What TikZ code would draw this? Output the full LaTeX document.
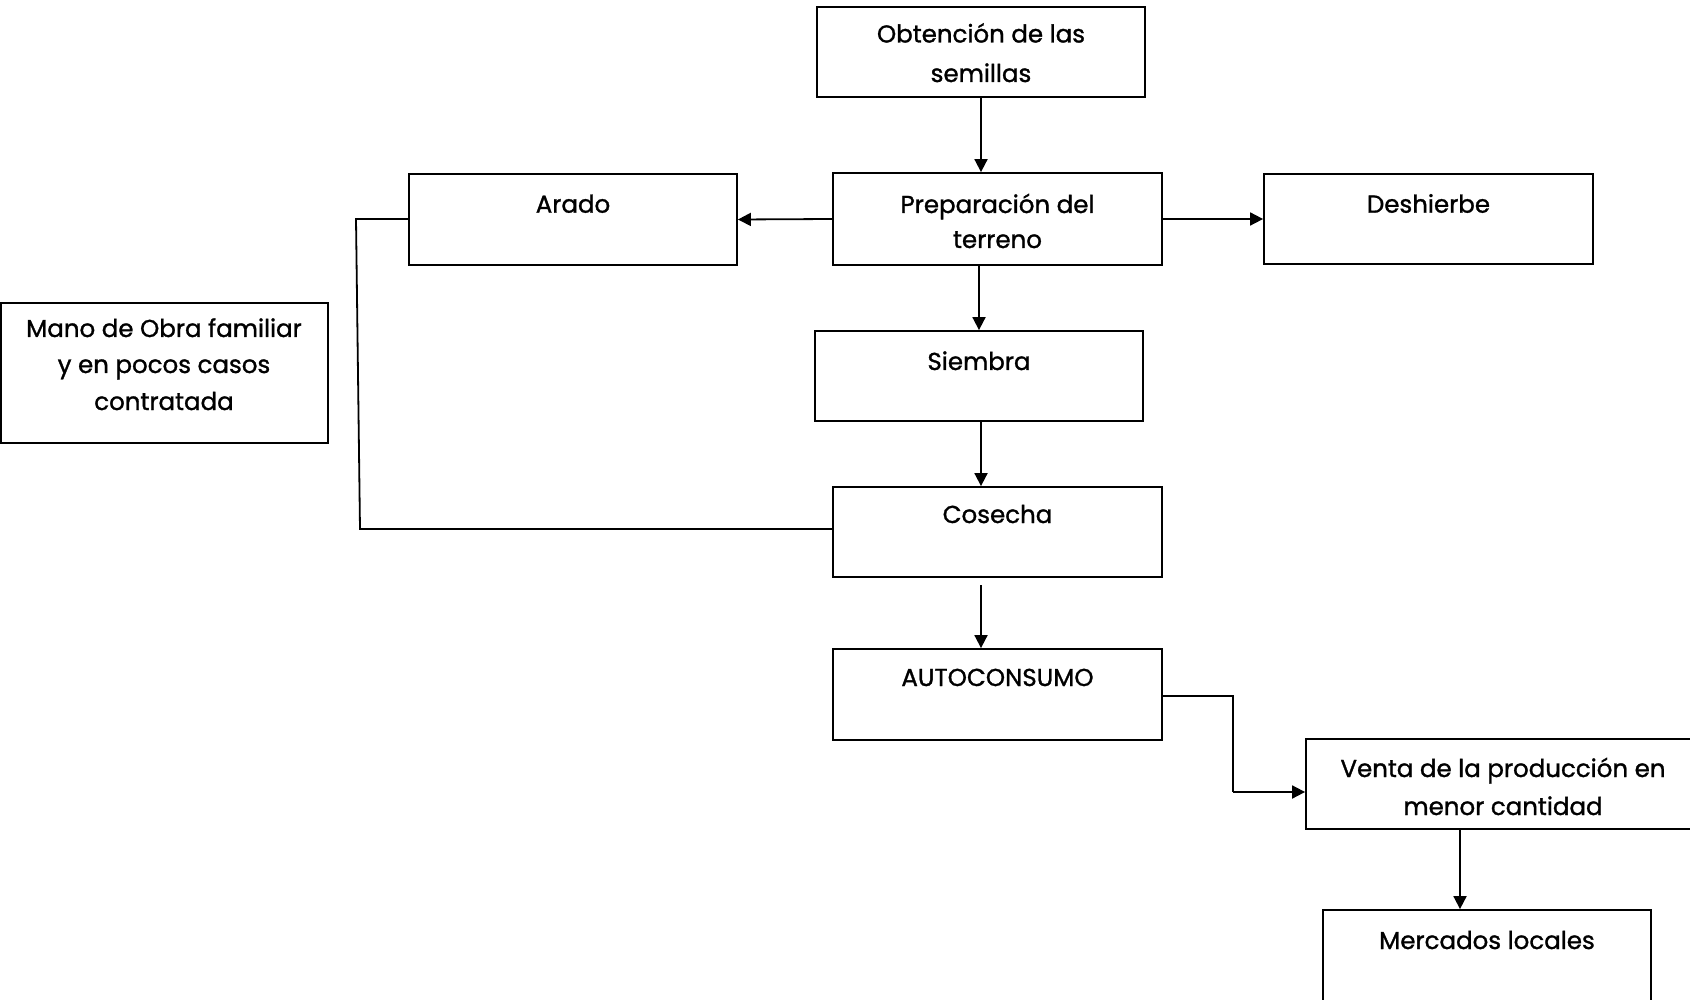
\documentclass[tikz,border=0pt]{standalone}
\usepackage{fontspec}
\setmainfont{Poppins}
\newfontfamily\dfont{Poppins}[FakeBold=1.2]
\usetikzlibrary{arrows.meta,calc}
\tikzset{
  box/.style={draw, line width=1.8pt, inner sep=0pt, minimum width=328pt, minimum height=90pt},
  txt/.style={anchor=base, inner sep=0pt, font=\dfont\fontsize{24.5}{30}\selectfont},
  conn/.style={line width=1.8pt},
  arr/.style={conn, -{Triangle[length=13pt,width=13pt]}}
}
\begin{document}
\begin{tikzpicture}[x=1pt,y=-1pt]
\useasboundingbox (0,0) rectangle (1690,1000);
\clip (0,0) rectangle (1690,1000);
% boxes
\node[box] (obt) at (981,52) {};
\node[box, minimum width=329pt, minimum height=92pt] (prep) at (997.5,219) {};
\node[box, minimum height=91pt] (arado) at (573,219.5) {};
\node[box, minimum width=329pt] (desh) at (1428.5,219) {};
\node[box, minimum width=327pt, minimum height=140pt] (mano) at (164.5,373) {};
\node[box] (siem) at (979,376) {};
\node[box, minimum width=329pt] (cos) at (997.5,532) {};
\node[box, minimum width=329pt, minimum height=91pt] (auto) at (997.5,694.5) {};
\node[box, minimum width=394pt] (venta) at (1503,784) {};
\node[box, minimum height=100pt] (merc) at (1487,960) {};
% texts
\node[txt] (tobt1) at (981,42.5) {Obtención de las};
\node[txt] (tobt2) at (981,82) {semillas};
\node[txt] (tprep1) at (997.5,213) {Preparación del};
\node[txt] (tprep2) at (997.5,248) {terreno};
\node[txt] (tarado) at (573,212.7) {Arado};
\node[txt] (tdesh) at (1428.5,212.7) {Deshierbe};
\node[txt] (tmano1) at (164,337) {Mano de Obra familiar};
\node[txt] (tmano2) at (164,373) {y en pocos casos};
\node[txt] (tmano3) at (164,410) {contratada};
\node[txt] (tsiem) at (979,370) {Siembra};
\node[txt] (tcos) at (997.5,523) {Cosecha};
\node[txt] (tauto) at (997.5,686) {AUTOCONSUMO};
\node[txt] (tventa1) at (1503,777) {Venta de la producción en};
\node[txt] (tventa2) at (1503,815) {menor cantidad};
\node[txt] (tmerc) at (1487,949) {Mercados locales};
% connector helpers
\coordinate (k1) at (356,219);
\coordinate (k2) at (360,529);
\coordinate (k3) at (1233,696);
\coordinate (k4) at (1233,792);
\coordinate (k5) at (1460,829);
\coordinate (k6) at (981,585);
% connectors
\draw[arr] (obt.south) -- (obt.south |- prep.north);
\draw[arr] (prep.west) -- (arado.east);
\draw[arr] (prep.east) -- (desh.west);
\draw[arr] (siem.north |- prep.south) -- (siem.north);
\draw[arr] (siem.south -| k6) -- (k6 |- cos.north);
\draw[arr] (k6) -- (k6 |- auto.north);
\draw[conn] (arado.west |- k1) -- (k1) -- (k2) -- (k2 -| cos.west);
\draw[conn] (auto.east |- k3) -- (k3) -- (k4);
\draw[arr] (k4) -- (k4 -| venta.west);
\draw[arr] (k5) -- (k5 |- merc.north);
\end{tikzpicture}
\end{document}
